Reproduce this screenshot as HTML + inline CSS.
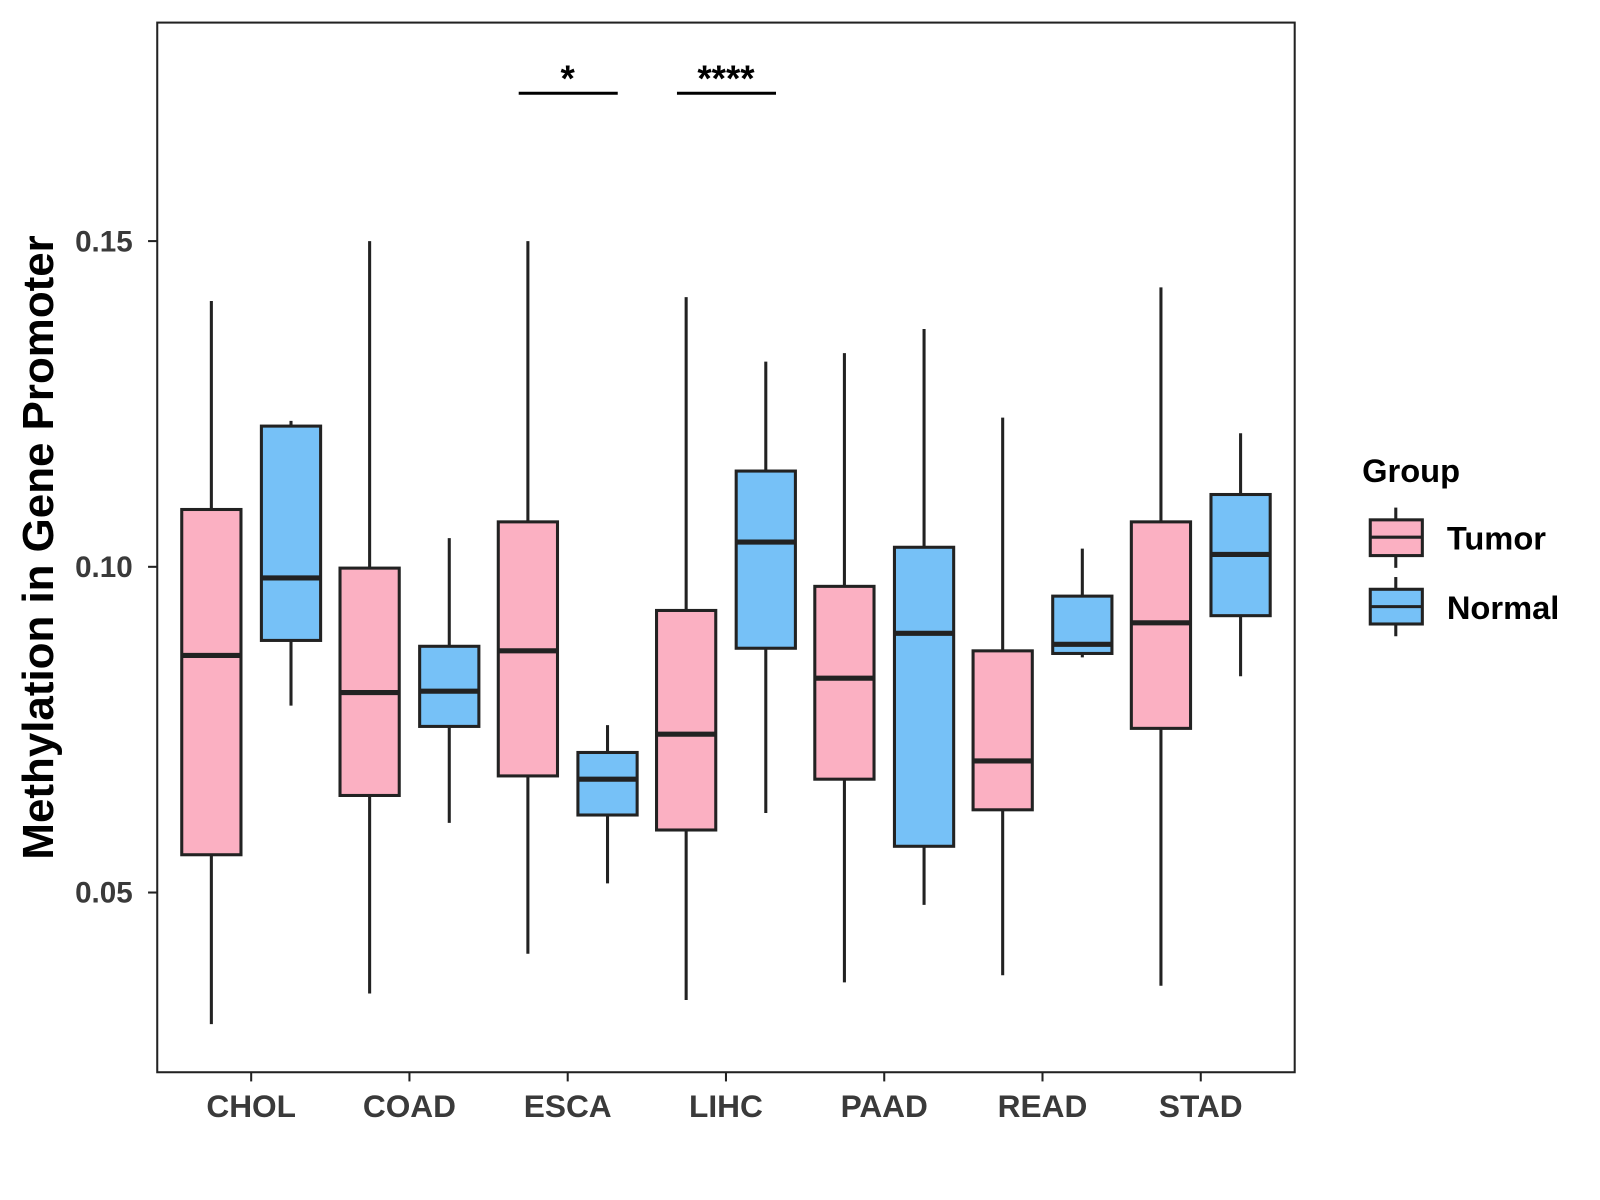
<!DOCTYPE html>
<html><head><meta charset="utf-8"><style>
html,body{margin:0;padding:0;background:#fff;}
svg{display:block;font-family:"Liberation Sans",Arial,sans-serif;}
</style></head><body>
<svg id="chart" width="1600" height="1200" viewBox="0 0 1567 1175" xmlns="http://www.w3.org/2000/svg">
<rect x="154" y="22" width="1114" height="1028" fill="#fff" stroke="#222" stroke-width="2"/>
<g id="marks"></g>
<text transform="translate(52,536) rotate(-90)" text-anchor="middle" font-size="43" font-weight="bold" fill="#000">Methylation in Gene Promoter</text>
<g>
<text x="1334" y="472" font-size="32" font-weight="bold">Group</text>
<g>
<line x1="1367" y1="497" x2="1367" y2="556" stroke="#222" stroke-width="3"/>
<rect x="1342" y="509" width="51" height="35" fill="#FBB0C2" stroke="#222" stroke-width="3"/>
<line x1="1342" y1="526" x2="1393" y2="526" stroke="#222" stroke-width="3"/>
<text x="1417" y="538" font-size="32" font-weight="bold">Tumor</text></g>
<g>
<line x1="1367" y1="565" x2="1367" y2="623" stroke="#222" stroke-width="3"/>
<rect x="1342" y="577" width="51" height="34" fill="#76C1F7" stroke="#222" stroke-width="3"/>
<line x1="1342" y1="594" x2="1393" y2="594" stroke="#222" stroke-width="3"/>
<text x="1417" y="606" font-size="32" font-weight="bold">Normal</text></g>
</g>
</svg>
<script>
const categories = ["CHOL","COAD","ESCA","LIHC","PAAD","READ","STAD"];
const groups = ["Tumor","Normal"];
const tumorLow = [0.0298,0.0345,0.0406,0.0335,0.0362,0.0373,0.0357];
const tumorQ1 = [0.0558,0.0649,0.0679,0.0596,0.0674,0.0627,0.0752];
const tumorMed = [0.0864,0.0807,0.0871,0.0743,0.0829,0.0702,0.0914];
const tumorQ3 = [0.1088,0.0998,0.1069,0.0933,0.0970,0.0871,0.1069];
const tumorHigh = [0.1408,0.1500,0.1500,0.1414,0.1328,0.1229,0.1429];
const normalLow = [0.0787,0.0607,0.0514,0.0622,0.0481,0.0861,0.0832];
const normalQ1 = [0.0887,0.0755,0.0619,0.0875,0.0571,0.0867,0.0925];
const normalMed = [0.0983,0.0809,0.0674,0.1038,0.0898,0.0881,0.1019];
const normalQ3 = [0.1216,0.0878,0.0715,0.1147,0.1030,0.0955,0.1111];
const normalHigh = [0.1224,0.1044,0.0757,0.1315,0.1365,0.1028,0.1205];
const yTicks = [0.05,0.10,0.15];
const yTickLabels = ["0.05","0.10","0.15"];
const sigCategories = ["ESCA","LIHC"];
const sigLabels = ["*","****"];
const sigValue = 0.1727;

const NS="http://www.w3.org/2000/svg";
const g=document.getElementById('marks');
function y(v){return 555-(v-0.10)*6380;}
function x(i){return 246+i*155;}
function mk(t,a,p){const e=document.createElementNS(NS,t);for(const k in a)e.setAttribute(k,a[k]);(p||g).appendChild(e);return e;}
yTicks.forEach((v,i)=>{
  const l=mk('line',{x1:145,x2:154,y1:y(v),y2:y(v),stroke:'#222','stroke-width':2});
  
  
  const t=mk('text',{x:130,y:y(v)+10,'text-anchor':'end','font-size':29,'font-weight':'bold',fill:'#3a3a3a'});
  t.textContent=yTickLabels[i];
  
  
});
categories.forEach((c,i)=>{
  const l=mk('line',{x1:x(i),x2:x(i),y1:1050,y2:1059,stroke:'#222','stroke-width':2});
  
  
  const t=mk('text',{x:x(i),y:1094,'text-anchor':'middle','font-size':31,'font-weight':'bold',fill:'#3a3a3a'});
  t.textContent=c;
  
  
  const sets=[[tumorLow,tumorQ1,tumorMed,tumorQ3,tumorHigh,'#FBB0C2',-39],[normalLow,normalQ1,normalMed,normalQ3,normalHigh,'#76C1F7',39]];
  sets.forEach((s,j)=>{
    const cx=x(i)+s[6];
    const bg=mk('g',{});
    
    
    mk('line',{x1:cx,x2:cx,y1:y(s[4][i]),y2:y(s[0][i]),stroke:'#222','stroke-width':3},bg);
    mk('rect',{x:cx-29,y:y(s[3][i]),width:58,height:y(s[1][i])-y(s[3][i]),fill:s[5],stroke:'#222','stroke-width':3},bg);
    mk('line',{x1:cx-29,x2:cx+29,y1:y(s[2][i]),y2:y(s[2][i]),stroke:'#222','stroke-width':5},bg);
  });
});
sigCategories.forEach((c,k)=>{
  const i=categories.indexOf(c);
  const l=mk('line',{x1:x(i)-48,x2:x(i)+49,y1:y(sigValue),y2:y(sigValue),stroke:'#000','stroke-width':3});
  
  
  const t=mk('text',{x:x(i),y:y(sigValue)-2,'text-anchor':'middle','font-size':36,'font-weight':'bold',fill:'#000'});
  t.textContent=sigLabels[k];
  
  
});
</script>
</body></html>
